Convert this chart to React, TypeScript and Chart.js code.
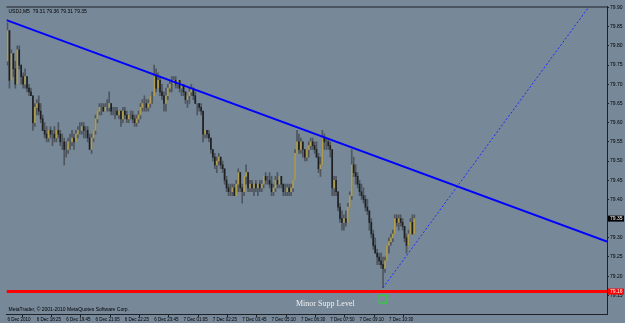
import React, { useEffect, useRef } from "react";
import { Chart, registerables } from "chart.js";

Chart.register(...registerables);

const chartTitle = "USDJ,M5  79.31 79.36 79.31 79.35";
const copyrightText = "MetaTrader, \u00a9 2001-2010 MetaQuotes Software Corp.";
const supportLabel = "Minor Supp Level";

const timeLabels = [
  "6 Dec 2010", "6 Dec 18:25", "6 Dec 19:45", "6 Dec 21:05", "6 Dec 22:25", "6 Dec 23:45",
  "7 Dec 01:05", "7 Dec 02:25", "7 Dec 03:45", "7 Dec 05:10", "7 Dec 06:30", "7 Dec 07:50",
  "7 Dec 09:10", "7 Dec 10:30",
];
const timeLabelBars = [0, 15, 30, 45, 60, 75, 90, 105, 120, 135, 150, 165, 180, 195];

const priceTicks = [79.15, 79.2, 79.25, 79.3, 79.35, 79.4, 79.45, 79.5, 79.55, 79.6, 79.65, 79.7, 79.75, 79.8, 79.85, 79.9];

const opens = [
  79.76, 79.84, 79.71, 79.78, 79.74, 79.70, 79.79, 79.75, 79.72, 79.70,
  79.72, 79.69, 79.68, 79.67, 79.60, 79.64, 79.65, 79.63, 79.61, 79.58,
  79.57, 79.56, 79.58, 79.57, 79.57, 79.56, 79.58, 79.57, 79.55, 79.55,
  79.53, 79.53, 79.55, 79.55, 79.56, 79.55, 79.57, 79.58, 79.58, 79.59,
  79.58, 79.58, 79.56, 79.53, 79.56, 79.58, 79.61, 79.63, 79.64, 79.64,
  79.63, 79.64, 79.64, 79.65, 79.63, 79.63, 79.63, 79.62, 79.63, 79.61,
  79.63, 79.62, 79.61, 79.62, 79.62, 79.61, 79.60, 79.61, 79.62, 79.64,
  79.65, 79.65, 79.64, 79.65, 79.67, 79.67, 79.72, 79.69, 79.71, 79.68,
  79.67, 79.65, 79.67, 79.69, 79.70, 79.70, 79.71, 79.70, 79.71, 79.69,
  79.70, 79.68, 79.66, 79.67, 79.68, 79.69, 79.67, 79.65, 79.65, 79.64,
  79.63, 79.57, 79.58, 79.57, 79.56, 79.53, 79.51, 79.49, 79.50, 79.51,
  79.49, 79.48, 79.45, 79.43, 79.42, 79.42, 79.43, 79.41, 79.44, 79.47,
  79.43, 79.42, 79.46, 79.47, 79.43, 79.44, 79.43, 79.44, 79.43, 79.44,
  79.43, 79.44, 79.46, 79.45, 79.45, 79.44, 79.42, 79.43, 79.45, 79.44,
  79.46, 79.44, 79.42, 79.42, 79.43, 79.42, 79.43, 79.45, 79.52, 79.55,
  79.53, 79.55, 79.53, 79.51, 79.53, 79.54, 79.55, 79.54, 79.53, 79.51,
  79.48, 79.49, 79.56, 79.55, 79.55, 79.54, 79.53, 79.43, 79.45, 79.42,
  79.38, 79.35, 79.34, 79.35, 79.34, 79.38, 79.41, 79.49, 79.47, 79.46,
  79.44, 79.42, 79.41, 79.40, 79.38, 79.37, 79.34, 79.31, 79.28, 79.26,
  79.25, 79.24, 79.23, 79.22, 79.24, 79.28, 79.29, 79.30, 79.31, 79.35,
  79.34, 79.35, 79.34, 79.33, 79.30, 79.28, 79.31, 79.34, 79.31,
];

const highs = [
  79.86, 79.84, 79.79, 79.78, 79.76, 79.80, 79.80, 79.75, 79.73, 79.74,
  79.72, 79.70, 79.69, 79.67, 79.65, 79.66, 79.67, 79.65, 79.62, 79.60,
  79.59, 79.58, 79.59, 79.58, 79.59, 79.58, 79.60, 79.58, 79.57, 79.56,
  79.55, 79.56, 79.57, 79.58, 79.57, 79.58, 79.59, 79.60, 79.60, 79.60,
  79.59, 79.59, 79.57, 79.57, 79.58, 79.62, 79.63, 79.65, 79.65, 79.65,
  79.65, 79.66, 79.68, 79.65, 79.64, 79.64, 79.64, 79.63, 79.63, 79.64,
  79.64, 79.63, 79.62, 79.63, 79.63, 79.62, 79.62, 79.63, 79.65, 79.66,
  79.67, 79.66, 79.66, 79.67, 79.68, 79.75, 79.74, 79.73, 79.72, 79.70,
  79.68, 79.69, 79.70, 79.71, 79.72, 79.72, 79.72, 79.71, 79.71, 79.70,
  79.70, 79.68, 79.67, 79.69, 79.70, 79.69, 79.68, 79.65, 79.65, 79.65,
  79.63, 79.58, 79.58, 79.58, 79.56, 79.53, 79.52, 79.51, 79.52, 79.51,
  79.50, 79.48, 79.46, 79.44, 79.44, 79.44, 79.44, 79.45, 79.48, 79.47,
  79.44, 79.46, 79.49, 79.47, 79.45, 79.45, 79.44, 79.45, 79.44, 79.45,
  79.45, 79.46, 79.47, 79.46, 79.47, 79.46, 79.44, 79.46, 79.47, 79.46,
  79.46, 79.44, 79.44, 79.44, 79.44, 79.44, 79.45, 79.53, 79.58, 79.57,
  79.56, 79.55, 79.53, 79.53, 79.55, 79.56, 79.56, 79.55, 79.55, 79.52,
  79.51, 79.58, 79.57, 79.56, 79.56, 79.55, 79.53, 79.46, 79.46, 79.42,
  79.39, 79.37, 79.36, 79.37, 79.39, 79.42, 79.53, 79.51, 79.49, 79.47,
  79.45, 79.44, 79.43, 79.41, 79.40, 79.37, 79.35, 79.32, 79.30, 79.27,
  79.26, 79.26, 79.25, 79.25, 79.28, 79.30, 79.31, 79.32, 79.36, 79.36,
  79.36, 79.36, 79.35, 79.33, 79.31, 79.32, 79.35, 79.36, 79.36,
];

const lows = [
  79.75, 79.69, 79.71, 79.72, 79.69, 79.70, 79.74, 79.70, 79.69, 79.69,
  79.68, 79.67, 79.67, 79.58, 79.59, 79.62, 79.62, 79.60, 79.58, 79.56,
  79.55, 79.55, 79.56, 79.54, 79.55, 79.55, 79.56, 79.54, 79.53, 79.49,
  79.51, 79.52, 79.53, 79.54, 79.53, 79.55, 79.56, 79.57, 79.57, 79.56,
  79.56, 79.55, 79.53, 79.52, 79.55, 79.57, 79.60, 79.62, 79.62, 79.63,
  79.63, 79.63, 79.63, 79.62, 79.62, 79.61, 79.62, 79.61, 79.59, 79.60,
  79.61, 79.60, 79.60, 79.61, 79.60, 79.59, 79.59, 79.60, 79.61, 79.63,
  79.63, 79.63, 79.63, 79.64, 79.65, 79.67, 79.68, 79.69, 79.67, 79.66,
  79.63, 79.63, 79.66, 79.68, 79.68, 79.70, 79.69, 79.69, 79.68, 79.67,
  79.67, 79.65, 79.64, 79.65, 79.67, 79.66, 79.65, 79.62, 79.63, 79.62,
  79.55, 79.56, 79.56, 79.55, 79.52, 79.50, 79.48, 79.47, 79.49, 79.48,
  79.47, 79.44, 79.42, 79.41, 79.41, 79.41, 79.41, 79.41, 79.42, 79.42,
  79.39, 79.41, 79.44, 79.42, 79.42, 79.42, 79.41, 79.42, 79.41, 79.42,
  79.42, 79.43, 79.44, 79.44, 79.43, 79.41, 79.41, 79.42, 79.43, 79.43,
  79.43, 79.41, 79.41, 79.41, 79.41, 79.41, 79.42, 79.45, 79.52, 79.52,
  79.52, 79.51, 79.50, 79.50, 79.51, 79.53, 79.53, 79.52, 79.51, 79.47,
  79.46, 79.49, 79.53, 79.53, 79.53, 79.51, 79.41, 79.41, 79.41, 79.37,
  79.34, 79.32, 79.32, 79.33, 79.34, 79.38, 79.40, 79.46, 79.44, 79.43,
  79.41, 79.40, 79.39, 79.37, 79.36, 79.32, 79.30, 79.27, 79.26, 79.23,
  79.23, 79.22, 79.17, 79.21, 79.24, 79.26, 79.28, 79.29, 79.31, 79.33,
  79.32, 79.33, 79.32, 79.29, 79.26, 79.28, 79.31, 79.31, 79.31,
];

const closes = [
  79.84, 79.71, 79.78, 79.74, 79.70, 79.79, 79.75, 79.72, 79.70, 79.72,
  79.69, 79.68, 79.67, 79.60, 79.64, 79.65, 79.63, 79.61, 79.58, 79.57,
  79.56, 79.58, 79.57, 79.57, 79.56, 79.58, 79.57, 79.55, 79.55, 79.53,
  79.53, 79.55, 79.55, 79.56, 79.55, 79.57, 79.58, 79.58, 79.59, 79.58,
  79.58, 79.56, 79.53, 79.56, 79.58, 79.61, 79.63, 79.64, 79.64, 79.63,
  79.64, 79.64, 79.65, 79.63, 79.63, 79.63, 79.62, 79.63, 79.61, 79.63,
  79.62, 79.61, 79.62, 79.62, 79.61, 79.60, 79.61, 79.62, 79.64, 79.65,
  79.65, 79.64, 79.65, 79.67, 79.67, 79.72, 79.69, 79.71, 79.68, 79.67,
  79.65, 79.67, 79.69, 79.70, 79.70, 79.71, 79.70, 79.71, 79.69, 79.70,
  79.68, 79.66, 79.67, 79.68, 79.69, 79.67, 79.65, 79.65, 79.64, 79.63,
  79.57, 79.58, 79.57, 79.56, 79.53, 79.51, 79.49, 79.50, 79.51, 79.49,
  79.48, 79.45, 79.43, 79.42, 79.42, 79.43, 79.41, 79.44, 79.47, 79.43,
  79.42, 79.46, 79.47, 79.43, 79.44, 79.43, 79.44, 79.43, 79.44, 79.43,
  79.44, 79.46, 79.45, 79.45, 79.44, 79.42, 79.43, 79.45, 79.44, 79.46,
  79.44, 79.42, 79.42, 79.43, 79.42, 79.43, 79.45, 79.52, 79.55, 79.53,
  79.55, 79.53, 79.51, 79.53, 79.54, 79.55, 79.54, 79.53, 79.51, 79.48,
  79.49, 79.56, 79.55, 79.55, 79.54, 79.53, 79.43, 79.45, 79.42, 79.38,
  79.35, 79.34, 79.35, 79.34, 79.38, 79.41, 79.49, 79.47, 79.46, 79.44,
  79.42, 79.41, 79.40, 79.38, 79.37, 79.34, 79.31, 79.28, 79.26, 79.25,
  79.24, 79.23, 79.22, 79.24, 79.28, 79.29, 79.30, 79.31, 79.35, 79.34,
  79.35, 79.34, 79.33, 79.30, 79.28, 79.31, 79.34, 79.31, 79.35,
];

// Drawn objects (price levels / trend lines), in bar-index and price units
const currentPrice = 79.35;
const supportLevel = 79.16;
const supportLabelBar = 162.5;
const markerBar = 192;
const markerPrice = 79.14;
const trendLineBars = [-0.5, 306.5];
const trendLinePrices = [79.867, 79.29];
const rayBars = [192, 297];
const rayPrices = [79.17, 79.9];

const BG = "#778899";
const AXIS = "#1c2127";
const WICK = "#4f565e";
const BULL = "rgba(214,190,80,0.7)";
const BEAR = "rgba(8,8,8,0.7)";
const SANS = "'Liberation Sans', Arial, sans-serif";

const decorPlugin = {
  id: "mtDecor",
  afterDraw(chart: any) {
    const { ctx, chartArea: a, scales } = chart;
    const xs = scales.x;
    const ys = scales.y;
    ctx.save();
    ctx.strokeStyle = AXIS;
    ctx.lineWidth = 1;
    ctx.beginPath();
    ctx.moveTo(a.left, a.top + 0.5);
    ctx.lineTo(a.right, a.top + 0.5);
    ctx.stroke();

    ctx.fillStyle = "#000";
    ctx.font = `5px ${SANS}`;
    ctx.textBaseline = "middle";
    ctx.textAlign = "left";
    ctx.fillText(chartTitle, a.left + 2, a.top + 5);
    ctx.fillText(copyrightText, a.left + 2, a.bottom - 4);

    ctx.fillStyle = "#f2f2f2";
    ctx.font = "8px 'Liberation Serif', 'Times New Roman', serif";
    ctx.textAlign = "center";
    ctx.fillText(supportLabel, xs.getPixelForValue(supportLabelBar), ys.getPixelForValue(supportLevel) + 12);

    const box = (v: number, bg: string) => {
      const py = ys.getPixelForValue(v);
      ctx.fillStyle = bg;
      ctx.fillRect(a.right + 1, py - 3, 16, 6);
      ctx.fillStyle = "#fff";
      ctx.font = `5px ${SANS}`;
      ctx.textAlign = "left";
      ctx.fillText(v.toFixed(2), a.right + 3, py);
    };
    box(currentPrice, "#000");
    box(supportLevel, "#ff0000");
    ctx.restore();
  },
};

export default function App() {
  const ref = useRef<HTMLCanvasElement>(null);
  useEffect(() => {
    document.body.style.margin = "0";
    document.body.style.background = BG;
    const idx = closes.map((_, i) => i);
    const wickData = idx.map((i) => ({ x: i, y: [lows[i], highs[i]] }));
    const bodyData = idx.map((i) => ({ x: i, y: [Math.min(opens[i], closes[i]), Math.max(opens[i], closes[i])] }));
    const bodyColors = idx.map((i) => (closes[i] > opens[i] ? BULL : closes[i] < opens[i] ? BEAR : "rgba(0,0,0,0)"));

    const chart = new Chart(ref.current!, {
      type: "bar",
      data: {
        datasets: [
          {
            type: "scatter",
            data: [{ x: markerBar, y: markerPrice }],
            pointStyle: "rect",
            pointRadius: 5.5,
            borderColor: "#22dd22",
            backgroundColor: "rgba(0,0,0,0)",
            pointBorderWidth: 1,
            order: 0,
          } as any,
          {
            type: "line",
            data: trendLineBars.map((b, i) => ({ x: b, y: trendLinePrices[i] })),
            borderColor: "#0000ff",
            borderWidth: 2,
            pointRadius: 0,
            order: 1,
          },
          {
            type: "line",
            data: rayBars.map((b, i) => ({ x: b, y: rayPrices[i] })),
            borderColor: "#1a2cff",
            borderWidth: 1,
            borderDash: [2, 2],
            pointRadius: 0,
            order: 2,
          },
          {
            type: "line",
            data: trendLineBars.map((b) => ({ x: b, y: supportLevel })),
            borderColor: "#ff0000",
            borderWidth: 3,
            pointRadius: 0,
            order: 3,
          },
          {
            type: "bar",
            data: bodyData as any,
            backgroundColor: bodyColors,
            barThickness: 1,
            grouped: false,
            order: 4,
          } as any,
          {
            type: "bar",
            data: wickData as any,
            backgroundColor: WICK,
            barThickness: 1,
            grouped: false,
            order: 5,
          } as any,
        ],
      },
      options: {
        responsive: false,
        animation: false,
        events: [],
        layout: { padding: 0 },
        plugins: { legend: { display: false }, tooltip: { enabled: false }, title: { display: false } },
        scales: {
          x: {
            type: "linear",
            min: -0.5,
            max: 306.5,
            offset: false,
            afterBuildTicks: (s: any) => {
              s.ticks = timeLabelBars.map((v) => ({ value: v }));
            },
            afterFit: (s: any) => {
              s.height = 9;
              s.paddingLeft = 0;
              s.paddingRight = 0;
            },
            ticks: {
              autoSkip: false,
              maxRotation: 0,
              minRotation: 0,
              align: "start",
              padding: 0,
              color: "#000",
              font: { size: 4.5, family: SANS },
              callback: (_v: any, i: number) => timeLabels[i] ?? "",
            },
            grid: { drawOnChartArea: false, drawTicks: true, tickLength: 3, color: AXIS },
            border: { display: true, color: AXIS, width: 1 },
          },
          y: {
            type: "linear",
            position: "right",
            min: 79.1015,
            max: 79.9026,
            afterBuildTicks: (s: any) => {
              s.ticks = priceTicks.map((v) => ({ value: v }));
            },
            afterFit: (s: any) => {
              s.width = 18;
              s.paddingTop = 0;
              s.paddingBottom = 0;
            },
            ticks: {
              padding: 1,
              color: "#000",
              font: { size: 5, family: SANS },
              callback: (v: any) => Number(v).toFixed(2),
            },
            grid: { drawOnChartArea: false, drawTicks: true, tickLength: 2, color: AXIS },
            border: { display: true, color: AXIS, width: 1 },
          },
        },
      },
      plugins: [decorPlugin],
    });
    return () => chart.destroy();
  }, []);

  return (
    <div style={{ position: "absolute", left: 0, top: 0, width: 625, height: 323, background: BG }}>
      <canvas ref={ref} width={625} height={323} style={{ display: "block" }} />
    </div>
  );
}
